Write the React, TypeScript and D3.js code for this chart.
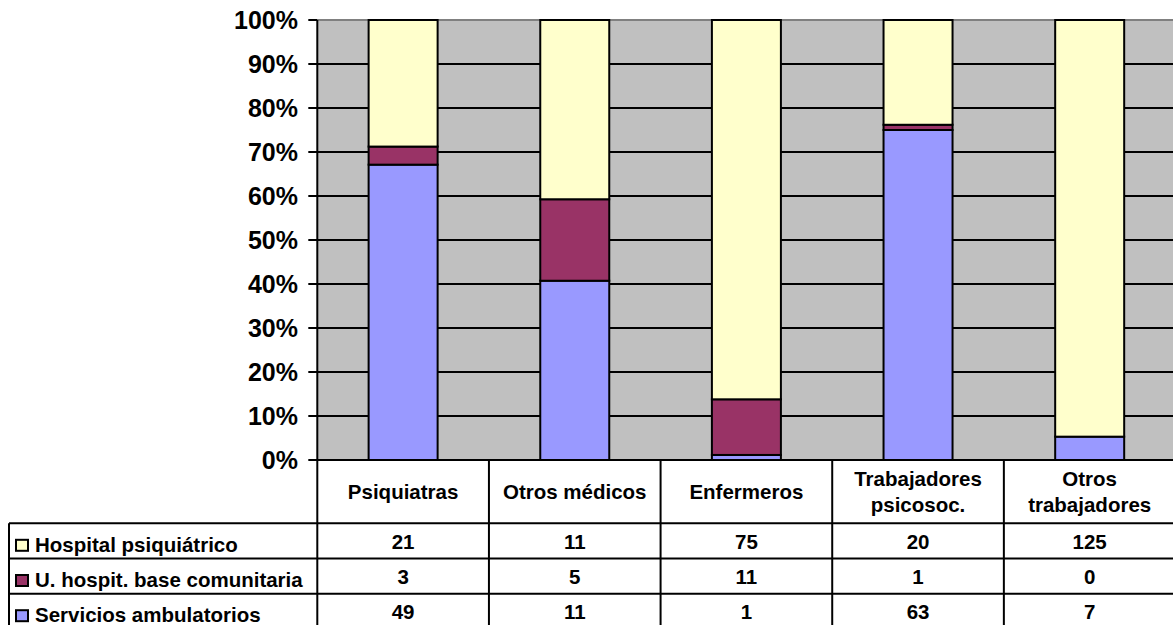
import React from "react";
import * as d3 from "d3";

// Staff categories (column headers may wrap onto two lines)
const categories = ["Psiquiatras", "Otros médicos", "Enfermeros", "Trabajadores psicosoc.", "Otros trabajadores"];
const headerLines = [["Psiquiatras"], ["Otros médicos"], ["Enfermeros"], ["Trabajadores", "psicosoc."], ["Otros", "trabajadores"]];

// Series, listed in table order (top row first)
const seriesNames = ["Hospital psiquiátrico", "U. hospit. base comunitaria", "Servicios ambulatorios"];
const hospitalPsiquiatrico = [21, 11, 75, 20, 125];
const uHospitBaseComunitaria = [3, 5, 11, 1, 0];
const serviciosAmbulatorios = [49, 11, 1, 63, 7];
const seriesColors = ["#FFFFCC", "#993366", "#9999FF"];

const yTicks = [0, 0.1, 0.2, 0.3, 0.4, 0.5, 0.6, 0.7, 0.8, 0.9, 1];

const W = 1173;
const H = 625;
const plotLeft = 317.3;
const plotRight = 1175.5;
const plotTop = 20;
const plotBottom = 460;
const tableLeft = 9;
const headerBottom = 523.3;
const rowH = 35.2;
const FONT = "'Liberation Sans', Arial, sans-serif";

export default function App() {
  const rows = categories.map((c, i) => ({
    cat: c,
    amb: serviciosAmbulatorios[i],
    uh: uHospitBaseComunitaria[i],
    hp: hospitalPsiquiatrico[i],
  }));
  const keys = ["amb", "uh", "hp"];
  const keyColor: Record<string, string> = { amb: seriesColors[2], uh: seriesColors[1], hp: seriesColors[0] };
  const stacked = d3.stack<any>().keys(keys).offset(d3.stackOffsetExpand)(rows);

  const x = d3
    .scaleBand<string>()
    .domain(categories)
    .range([plotLeft, plotRight])
    .paddingInner(0.598)
    .paddingOuter(0.299);
  const step = x.step();
  const y = d3.scaleLinear().domain([0, 1]).range([plotBottom, plotTop]);
  const fmt = d3.format(".0%");

  const tableValues = [hospitalPsiquiatrico, uHospitBaseComunitaria, serviciosAmbulatorios];

  return (
    <svg width={W} height={H} style={{ position: "absolute", left: 0, top: 0, background: "#fff" }}>
      {/* plot background */}
      <rect x={plotLeft} y={plotTop} width={plotRight - plotLeft} height={plotBottom - plotTop} fill="#C0C0C0" />
      {/* top border */}
      <line x1={plotLeft} x2={plotRight} y1={plotTop} y2={plotTop} stroke="#808080" strokeWidth={2} />
      {/* gridlines */}
      {yTicks.filter((t) => t > 0 && t < 1).map((t) => (
        <line key={t} x1={plotLeft} x2={plotRight} y1={y(t)} y2={y(t)} stroke="#000" strokeWidth={2} />
      ))}
      {/* stacked bars */}
      {stacked.map((s) =>
        s.map((d, i) => {
          const y0 = y(d[0]);
          const y1 = y(d[1]);
          if (y0 - y1 <= 0.01) return null;
          return (
            <rect
              key={s.key + i}
              x={x(categories[i])}
              y={y1}
              width={x.bandwidth()}
              height={y0 - y1}
              fill={keyColor[s.key]}
              stroke="#000"
              strokeWidth={2}
            />
          );
        })
      )}
      {/* value axis */}
      <line x1={plotLeft} x2={plotLeft} y1={plotTop} y2={H} stroke="#000" strokeWidth={2} />
      {yTicks.map((t) => (
        <g key={t}>
          <line x1={plotLeft - 9} x2={plotLeft} y1={y(t)} y2={y(t)} stroke="#000" strokeWidth={2} />
          <text
            x={298}
            y={y(t) + 8.5}
            textAnchor="end"
            fontFamily={FONT}
            fontWeight="bold"
            fontSize={25}
            fill="#000"
          >
            {fmt(t)}
          </text>
        </g>
      ))}

      {/* data table */}
      <line x1={plotLeft} x2={plotRight} y1={plotBottom} y2={plotBottom} stroke="#000" strokeWidth={2} />
      {categories.map((c, i) => (
        <line
          key={"v" + c}
          x1={plotLeft + step * (i + 1)}
          x2={plotLeft + step * (i + 1)}
          y1={plotBottom}
          y2={H}
          stroke="#000"
          strokeWidth={2}
        />
      ))}
      <line x1={tableLeft} x2={tableLeft} y1={headerBottom} y2={H} stroke="#000" strokeWidth={2} />
      {[0, 1, 2].map((r) => (
        <line
          key={"h" + r}
          x1={tableLeft}
          x2={plotRight}
          y1={headerBottom + r * rowH}
          y2={headerBottom + r * rowH}
          stroke="#000"
          strokeWidth={2}
        />
      ))}
      {/* column headers */}
      {categories.map((c, i) => {
        const lines = headerLines[i];
        const cx = (x(c) as number) + x.bandwidth() / 2;
        const mid = (plotBottom + headerBottom) / 2;
        const lh = 26.5;
        return (
          <text
            key={"hd" + c}
            textAnchor="middle"
            fontFamily={FONT}
            fontWeight="bold"
            fontSize={20.5}
            fill="#000"
          >
            {lines.map((ln, k) => (
              <tspan key={k} x={cx} y={mid + 7.5 + (k - (lines.length - 1) / 2) * lh}>
                {ln}
              </tspan>
            ))}
          </text>
        );
      })}
      {/* series rows */}
      {seriesNames.map((name, r) => {
        const top = headerBottom + r * rowH;
        return (
          <g key={name}>
            <rect x={16} y={top + 16.5} width={12} height={11} fill={seriesColors[r]} stroke="#000" strokeWidth={2} />
            <text x={35} y={top + 28.5} fontFamily={FONT} fontWeight="bold" fontSize={20.5} fill="#000">
              {name}
            </text>
            {categories.map((c, i) => (
              <text
                key={c}
                x={(x(c) as number) + x.bandwidth() / 2}
                y={top + 25.5}
                textAnchor="middle"
                fontFamily={FONT}
                fontWeight="bold"
                fontSize={20.5}
                fill="#000"
              >
                {tableValues[r][i]}
              </text>
            ))}
          </g>
        );
      })}
    </svg>
  );
}
